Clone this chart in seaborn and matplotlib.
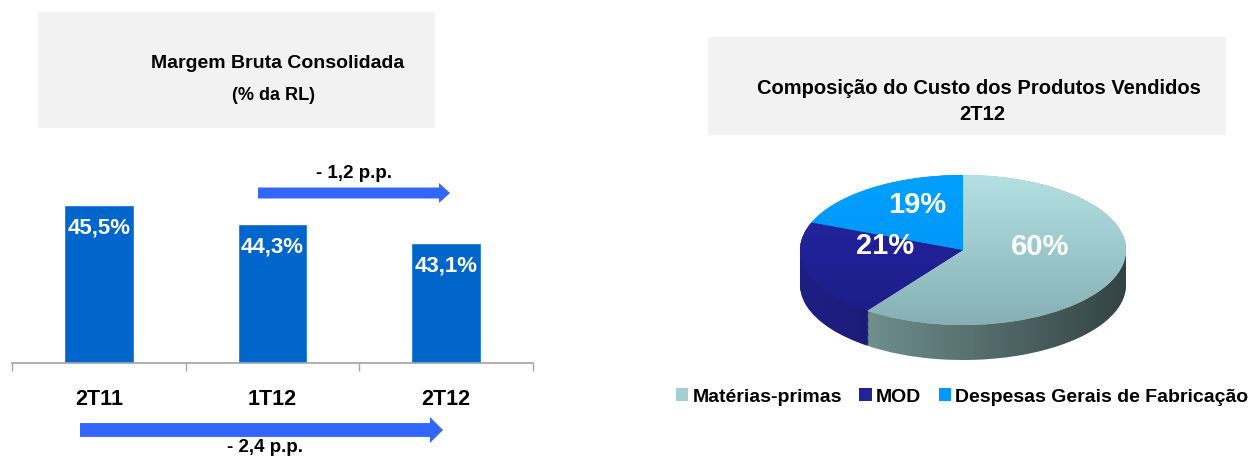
import matplotlib
matplotlib.use("Agg")
import matplotlib.pyplot as plt
import numpy as np
import pandas as pd
import seaborn as sns
from matplotlib.colors import LinearSegmentedColormap
from matplotlib.patches import FancyArrowPatch, Polygon, Rectangle

periodos = ["2T11", "1T12", "2T12"]
margem = [45.5, 44.3, 43.1]
margem_rotulos = ["45,5%", "44,3%", "43,1%"]

componentes = ["Matérias-primas", "MOD", "Despesas Gerais de Fabricação"]
participacao = [60, 21, 19]
cores_topo = ["#A3CFD3", "#22229A", "#0099FF"]
cores_claro = ["#B4E0E3", "#2626A6", "#00A0FF"]
cores_escuro = ["#86B0B4", "#1C1C86", "#0090F0"]
cores_lado = ["#7A9C9C", "#1E1E82", "#0077CC"]

sns.set_theme(style="white")
plt.rcParams["font.family"] = ["Liberation Sans", "DejaVu Sans"]
plt.rcParams["text.color"] = "black"
plt.rcParams["xtick.color"] = "black"

W, H = 1252, 457
fig = plt.figure(figsize=(W / 100, H / 100), dpi=100)


def fx(px):
    return px / W


def fy(py):
    return 1 - py / H


def caixa(x0, y0, x1, y1):
    fig.add_artist(Rectangle((fx(x0), fy(y1)), (x1 - x0) / W, (y1 - y0) / H,
                             transform=fig.transFigure, facecolor="#F2F2F2",
                             edgecolor="none", zorder=0))


def seta(x0, x1, y, corpo, cabeca, comp):
    estilo = f"simple,head_width={cabeca},head_length={comp},tail_width={corpo}"
    fig.add_artist(FancyArrowPatch((fx(x0), fy(y)), (fx(x1), fy(y)),
                                   transform=fig.transFigure, arrowstyle=estilo,
                                   mutation_scale=1, color="#3366FF",
                                   shrinkA=0, shrinkB=0, linewidth=0))


# --- margem bruta ---
caixa(38, 12, 435, 128)
fig.text(fx(278), fy(64), "Margem Bruta Consolidada", ha="center", va="center",
         fontsize=14, fontweight="bold")
fig.text(fx(274), fy(95), "(% da RL)", ha="center", va="center",
         fontsize=13, fontweight="bold")

ax = fig.add_axes([fx(12), fy(363), (533 - 12) / W, (363 - 150) / H])
df = pd.DataFrame({"periodo": periodos, "margem": margem})
sns.barplot(data=df, x="periodo", y="margem", color="#0066CC", saturation=1,
            width=0.40, ax=ax)
ax.set_ylim(35.5, 49)
ax.set_xlim(-0.5, 2.5)
ax.set_xlabel("")
ax.set_ylabel("")
ax.set_yticks([])
sns.despine(ax=ax, left=True)
ax.spines["bottom"].set_color("#A6A6A6")
ax.set_xticks([-0.5, 0.5, 1.5, 2.5], minor=True)
ax.tick_params(axis="x", which="minor", bottom=True, length=6, width=1,
               color="#A6A6A6", direction="out")
ax.tick_params(axis="x", which="major", length=0, pad=19, labelsize=15.5)
for lbl in ax.get_xticklabels():
    lbl.set_fontweight("bold")
ax.bar_label(ax.containers[0], labels=margem_rotulos, padding=-24,
             color="white", fontsize=16, fontweight="bold")

seta(258, 450, 193, 7.9, 14.4, 7.9)
fig.text(fx(354), fy(173), "- 1,2 p.p.", ha="center", va="center",
         fontsize=13.5, fontweight="bold")
seta(80, 443, 430, 10, 18.7, 9.4)
fig.text(fx(265), fy(447), "- 2,4 p.p.", ha="center", va="center",
         fontsize=13.5, fontweight="bold")

# --- composicao do CPV ---
caixa(708, 37, 1226, 135)
fig.text(fx(979), fy(88), "Composição do Custo dos Produtos Vendidos",
         ha="center", va="center", fontsize=14.5, fontweight="bold")
fig.text(fx(982), fy(114), "2T12", ha="center", va="center",
         fontsize=14.5, fontweight="bold")

rx, ry = 163, 75
cx, cy = 963, 250
axp = fig.add_axes([fx(cx - 1.1 * rx), fy(cy + 1.6 * ry), 2.2 * rx / W, 2.8 * ry / H])
profundidade = 35 / ry
camadas = 30
for i in range(camadas, 0, -1):
    d = profundidade * i / camadas
    axp.pie(participacao, colors=cores_lado, startangle=90, counterclock=False,
            center=(0, -d), wedgeprops=dict(linewidth=0, zorder=1))

# sombreamento horizontal da lateral
t = np.linspace(0, np.pi, 100)
contorno = np.concatenate([
    np.column_stack([-np.cos(t), -np.sin(t) - profundidade]),
    np.column_stack([np.cos(t), np.sin(t)]),
])
lado = Polygon(contorno, closed=True, transform=axp.transData, facecolor="none",
               edgecolor="none")
axp.add_patch(lado)
xs = np.linspace(-1, 1, 256)
sombra = np.zeros((1, 256, 4))
sombra[..., 3] = np.clip(0.308 * (xs + 1) - 0.04, 0, 1)
im = axp.imshow(sombra, extent=[-1, 1, -1 - profundidade, 1], aspect="auto",
                interpolation="bilinear", zorder=1.5)
im.set_clip_path(lado)

fatias, _, pcts = axp.pie(participacao, colors=cores_topo, startangle=90,
                          counterclock=False, autopct=lambda p: f"{p:.0f}%",
                          pctdistance=0.5,
                          textprops=dict(color="white", fontsize=21, fontweight="bold",
                                         zorder=4),
                          wedgeprops=dict(linewidth=0, zorder=2))
degrade = np.linspace(0, 1, 256).reshape(-1, 1)
for fatia, c0, c1 in zip(fatias, cores_escuro, cores_claro):
    cmap = LinearSegmentedColormap.from_list("g", [c0, c1])
    g = axp.imshow(degrade, cmap=cmap, extent=[-1, 1, -1, 1], origin="lower",
                   aspect="auto", interpolation="bilinear", zorder=2.1)
    g.set_clip_path(fatia)
for txt in pcts:
    x, y = txt.get_position()
    txt.set_position((x, y + 0.19))
axp.set_aspect("auto")
axp.set_xlim(-1.1, 1.1)
axp.set_ylim(-1.6, 1.2)
axp.axis("off")

fig.legend(fatias, componentes, loc="center", bbox_to_anchor=(fx(962), fy(397)),
           ncol=3, frameon=False, handlelength=0.65, handleheight=0.65,
           handletextpad=0.2, columnspacing=0.9,
           prop=dict(weight="bold", size=14))

fig.savefig("out.png", dpi=100)
